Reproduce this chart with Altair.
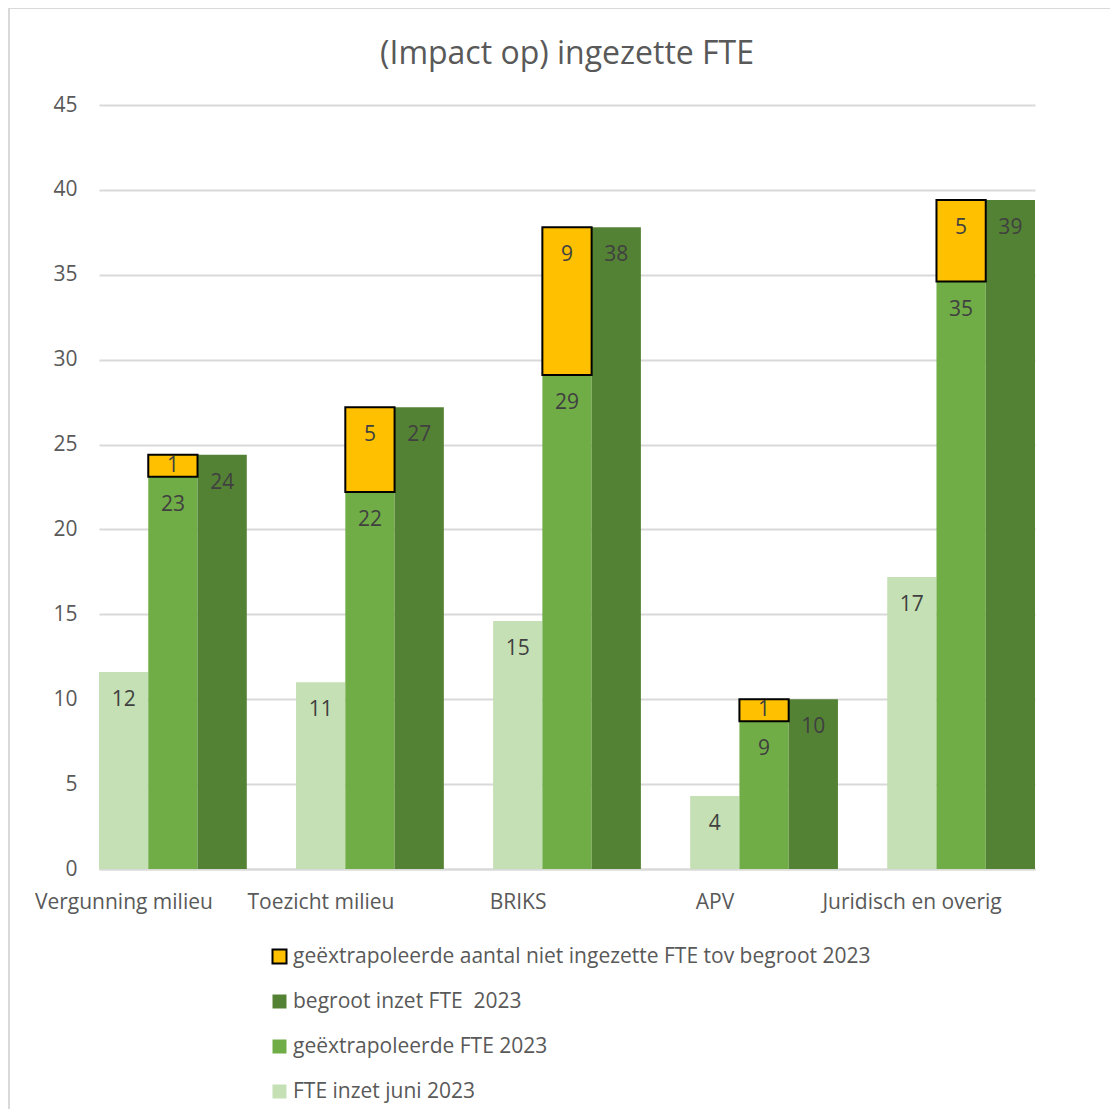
import altair as alt
import pandas as pd

categories = ["Vergunning milieu", "Toezicht milieu", "BRIKS", "APV", "Juridisch en overig"]
fte_juni = [11.6, 11.0, 14.6, 4.3, 17.2]
fte_extrapolated = [23.1, 22.2, 29.1, 8.7, 34.6]
fte_gap = [1.3, 5.0, 8.7, 1.3, 4.8]
fte_budget = [24.4, 27.2, 37.8, 10.0, 39.4]

series_names = [
    "geëxtrapoleerde aantal niet ingezette FTE tov begroot 2023",
    "begroot inzet FTE\u00a0 2023",
    "geëxtrapoleerde FTE 2023",
    "FTE inzet juni 2023",
]
series_colors = ["#FFC000", "#548235", "#70AD47", "#C5E0B4"]
series_strokes = ["#000000", "transparent", "transparent", "transparent"]
slots = ["a", "b", "c"]

rows = []
for i, c in enumerate(categories):
    rows.append(dict(cat=c, slot="a", series=series_names[3], lo=0.0, hi=fte_juni[i], val=fte_juni[i]))
    rows.append(dict(cat=c, slot="b", series=series_names[2], lo=0.0, hi=fte_extrapolated[i], val=fte_extrapolated[i]))
    rows.append(dict(cat=c, slot="c", series=series_names[1], lo=0.0, hi=fte_budget[i], val=fte_budget[i]))
for i, c in enumerate(categories):
    rows.append(dict(cat=c, slot="b", series=series_names[0], lo=fte_extrapolated[i],
                     hi=fte_extrapolated[i] + fte_gap[i], val=fte_gap[i]))
df = pd.DataFrame(rows)

FONT = "Open Sans"
GRID = "#D9D9D9"
TXT = "#595959"

x_enc = alt.X("cat:N", sort=categories,
              scale=alt.Scale(paddingInner=0.25, paddingOuter=0),
              axis=alt.Axis(title=None, labelAngle=0, labelFontSize=21, labelColor=TXT, labelFont=FONT,
                            labelOffset=-49, labelPadding=22, ticks=False, domain=True,
                            domainColor=GRID, domainWidth=2, labelOverlap=False, grid=False))
xo_enc = alt.XOffset("slot:N", sort=slots, scale=alt.Scale(paddingInner=0, paddingOuter=0))
y_scale = alt.Scale(domain=[0, 45], nice=False)

legend_cfg = dict(title=None, orient="none", legendX=170, legendY=841,
                  direction="vertical", symbolType="square", symbolSize=196,
                  symbolStrokeWidth=2, labelFontSize=21, labelColor=TXT,
                  labelFont=FONT, rowPadding=22, labelOffset=3, padding=0, labelLimit=800)

bars = alt.Chart(df).mark_bar(strokeWidth=2).encode(
    x=x_enc,
    xOffset=xo_enc,
    y=alt.Y("hi:Q", scale=y_scale,
            axis=alt.Axis(title=None, values=list(range(0, 46, 5)), grid=True, gridColor=GRID,
                          gridWidth=2, domain=False, ticks=False, labelFontSize=21, labelColor=TXT,
                          labelFont=FONT, labelPadding=22)),
    y2="lo:Q",
    fill=alt.Fill("series:N", scale=alt.Scale(domain=series_names, range=series_colors),
                  legend=alt.Legend(**legend_cfg)),
    stroke=alt.Stroke("series:N", scale=alt.Scale(domain=series_names, range=series_strokes),
                      legend=alt.Legend(**legend_cfg)),
)

labels = alt.Chart(df).transform_calculate(
    ly="max((datum.lo + datum.hi) / 2, datum.hi - 1.65)"
).mark_text(fontSize=21, font=FONT, color="#404040", baseline="middle", align="center").encode(
    x=alt.X("cat:N", sort=categories),
    xOffset=alt.XOffset("slot:N", sort=slots),
    y=alt.Y("ly:Q", scale=y_scale),
    text=alt.Text("val:Q", format=".0f"),
)

border_top = alt.Chart(pd.DataFrame({"k": [0]})).mark_rule(color=GRID, strokeWidth=2).encode(
    x=alt.value(-90), x2=alt.value(1030), y=alt.value(-97)
)
border_left = alt.Chart(pd.DataFrame({"k": [0]})).mark_rule(color=GRID, strokeWidth=2).encode(
    x=alt.value(-90), y=alt.value(-97), y2=alt.value(1010)
)

chart = alt.layer(bars, labels, border_top, border_left).properties(
    width=936,
    height=764,
    background="white",
    title=alt.TitleParams("(Impact op) ingezette FTE", fontSize=32, color=TXT, font=FONT,
                          fontWeight="normal", anchor="middle", frame="group", offset=0,
                          baseline="alphabetic", dy=89),
    autosize=alt.AutoSizeParams(type="none"),
    padding={"left": 91, "top": 97, "right": 75, "bottom": 240},
).configure_view(stroke="transparent", strokeWidth=0)

chart.save("out.html", embed_options={"renderer": "svg", "actions": False})
